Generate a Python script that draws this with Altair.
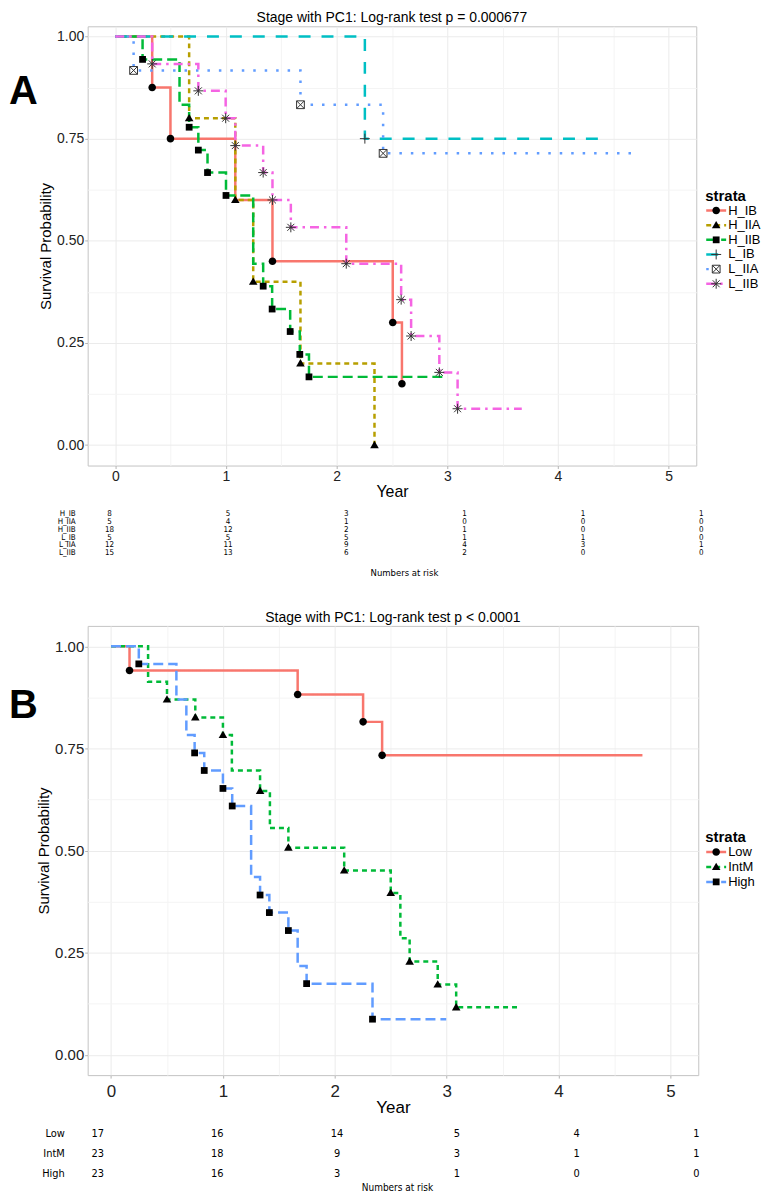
import altair as alt
import pandas as pd

FONT = "Liberation Sans"
NARROW = "Liberation Sans Narrow, DejaVu Sans Condensed, Liberation Sans"

# ---------------- Panel A data ----------------
A_STRATA = ["H_IB", "H_IIA", "H_IIB", "L_IB", "L_IIA", "L_IIB"]

A_H_IB_T = [0, 0.333, 0.498, 1.084, 1.42, 2.507, 2.59]
A_H_IB_S = [1.0, 0.875, 0.75, 0.60, 0.45, 0.30, 0.15]
A_H_IIA_T = [0, 0.667, 1.084, 1.246, 1.673, 2.342]
A_H_IIA_S = [1.0, 0.80, 0.60, 0.40, 0.20, 0.0]
A_H_IIB_T = [0, 0.246, 0.58, 0.667, 0.75, 0.833, 1.0, 1.246, 1.336, 1.417, 1.58, 1.667, 1.75, 3.0]
A_H_IIB_S = [1.0, 0.944, 0.833, 0.778, 0.722, 0.667, 0.611, 0.444, 0.389, 0.333, 0.278, 0.222, 0.167, 0.167]
A_L_IB_T = [0, 2.255, 4.42]
A_L_IB_S = [1.0, 0.75, 0.75]
A_L_IIA_T = [0, 0.165, 1.673, 2.42, 4.73]
A_L_IIA_S = [1.0, 0.917, 0.833, 0.714, 0.714]
A_L_IIB_T = [0, 0.333, 0.75, 0.997, 1.084, 1.336, 1.42, 1.586, 2.087, 2.583, 2.673, 2.928, 3.093, 3.673]
A_L_IIB_S = [1.0, 0.933, 0.867, 0.80, 0.733, 0.667, 0.60, 0.533, 0.444, 0.356, 0.267, 0.178, 0.089, 0.089]

A_H_IB_MT = [0.333, 0.498, 1.42, 2.507, 2.59]
A_H_IB_MS = [0.875, 0.75, 0.45, 0.30, 0.15]
A_H_IIA_MT = [0.667, 1.084, 1.246, 1.673, 2.342]
A_H_IIA_MS = [0.80, 0.60, 0.40, 0.20, 0.0]
A_H_IIB_MT = [0.246, 0.667, 0.75, 0.833, 1.0, 1.336, 1.417, 1.58, 1.667, 1.75]
A_H_IIB_MS = [0.944, 0.778, 0.722, 0.667, 0.611, 0.389, 0.333, 0.278, 0.222, 0.167]
A_L_IB_MT = [2.255]
A_L_IB_MS = [0.75]
A_L_IIA_MT = [0.165, 1.673, 2.42]
A_L_IIA_MS = [0.917, 0.833, 0.714]
A_L_IIB_MT = [0.333, 0.75, 0.997, 1.084, 1.336, 1.42, 1.586, 2.087, 2.583, 2.673, 2.928, 3.093]
A_L_IIB_MS = [0.933, 0.867, 0.80, 0.733, 0.667, 0.60, 0.533, 0.444, 0.356, 0.267, 0.178, 0.089]

RISK_TIMES = [0, 1, 2, 3, 4, 5]
A_RISK_H_IB = [8, 5, 3, 1, 1, 1]
A_RISK_H_IIA = [5, 4, 1, 0, 0, 0]
A_RISK_H_IIB = [18, 12, 2, 1, 0, 0]
A_RISK_L_IB = [5, 5, 5, 1, 1, 0]
A_RISK_L_IIA = [12, 11, 9, 4, 3, 1]
A_RISK_L_IIB = [15, 13, 6, 2, 0, 0]

# ---------------- Panel B data ----------------
B_STRATA = ["Low", "IntM", "High"]

B_LOW_T = [0, 0.165, 1.668, 2.253, 2.423, 4.75]
B_LOW_S = [1.0, 0.941, 0.882, 0.815, 0.733, 0.733]
B_INTM_T = [0, 0.331, 0.5, 0.753, 1.0, 1.08, 1.332, 1.42, 1.585, 2.084, 2.5, 2.586, 2.669, 2.92, 3.085, 3.656]
B_INTM_S = [1.0, 0.913, 0.870, 0.826, 0.783, 0.696, 0.646, 0.555, 0.507, 0.451, 0.396, 0.285, 0.228, 0.172, 0.116, 0.116]
B_HIGH_T = [0, 0.248, 0.584, 0.673, 0.747, 0.833, 1.0, 1.083, 1.252, 1.332, 1.415, 1.585, 1.668, 1.748, 2.337, 2.996]
B_HIGH_S = [1.0, 0.957, 0.870, 0.783, 0.739, 0.696, 0.652, 0.609, 0.435, 0.391, 0.348, 0.304, 0.217, 0.174, 0.087, 0.087]

B_LOW_MT = [0.165, 1.668, 2.253, 2.423]
B_LOW_MS = [0.941, 0.882, 0.815, 0.733]
B_INTM_MT = [0.5, 0.753, 1.0, 1.332, 1.585, 2.084, 2.5, 2.669, 2.92, 3.085]
B_INTM_MS = [0.870, 0.826, 0.783, 0.646, 0.507, 0.451, 0.396, 0.228, 0.172, 0.116]
B_HIGH_MT = [0.248, 0.747, 0.833, 1.0, 1.083, 1.332, 1.415, 1.585, 1.748, 2.337]
B_HIGH_MS = [0.957, 0.739, 0.696, 0.652, 0.609, 0.391, 0.348, 0.304, 0.174, 0.087]

B_RISK_LOW = [17, 16, 14, 5, 4, 1]
B_RISK_INTM = [23, 18, 9, 3, 1, 1]
B_RISK_HIGH = [23, 16, 3, 1, 0, 0]

# ---------------- styles ----------------
A_COLORS = ["#F8766D", "#B79F00", "#00BA38", "#00BFC4", "#619CFF", "#F564E3"]
B_COLORS = ["#F8766D", "#00BA38", "#619CFF"]
A_DASHES = [[1, 0], [5, 4], [10, 5], [12, 11], [2.5, 9], [9, 5, 2.5, 5]]
B_DASHES = [[1, 0], [5, 4], [10, 5]]

CIRCLE = "M0.76,0A0.76,0.76,0,1,1,-0.76,0A0.76,0.76,0,1,1,0.76,0Z"
TRI = "M0,-0.86L0.86,0.62L-0.86,0.62Z"
SQUARE = "M-0.68,-0.68H0.68V0.68H-0.68Z"
PLUS = "M-1,0H1M0,-1V1"
BOXX = "M-0.78,-0.78H0.78V0.78H-0.78ZM-0.78,-0.78L0.78,0.78M0.78,-0.78L-0.78,0.78"
STAR = "M-1,0H1M0,-1V1M-0.7,-0.7L0.7,0.7M-0.7,0.7L0.7,-0.7"
A_SHAPES = [CIRCLE, TRI, SQUARE, PLUS, BOXX, STAR]
B_SHAPES = [CIRCLE, TRI, SQUARE]

XVALS = [i * 0.5 for i in range(11)]
YVALS = [i * 0.125 for i in range(9)]
MAJOR = "#ebebeb"
MINOR = "#f4f4f4"


def long_df(strata, t_lists, s_lists):
    rows = []
    for name, ts, ss in zip(strata, t_lists, s_lists):
        for t, s in zip(ts, ss):
            rows.append({"strata": name, "t": t, "s": s})
    return pd.DataFrame(rows)


def risk_frame(strata, lists):
    rows = []
    for name, ns in zip(strata, lists):
        for t, n in zip(RISK_TIMES, ns):
            rows.append({"strata": name, "t": t, "n": n})
    return pd.DataFrame(rows)


def one_text(txt):
    return pd.DataFrame({"label": [txt]})


def panel(p):
    strata = p["strata"]
    xsc = alt.Scale(domain=p["xdom"], nice=False, zero=False)
    ysc = alt.Scale(domain=p["ydom"], nice=False, zero=False)
    col = alt.Color("strata:N", scale=alt.Scale(domain=strata, range=p["colors"]), legend=None)
    dash = alt.StrokeDash("strata:N", scale=alt.Scale(domain=strata, range=p["dashes"]), legend=None)
    shp = alt.Shape("strata:N", scale=alt.Scale(domain=strata, range=p["shapes"]), legend=None)

    xaxis = alt.Axis(
        values=XVALS,
        labelExpr="datum.value % 1 === 0 ? format(datum.value, 'd') : ''",
        labelFontSize=p["xlab_fs"], titleFontSize=p["xtitle_fs"],
        labelPadding=p["xlab_pad"], titlePadding=p["xtitle_pad"],
        tickOpacity={"condition": {"test": "datum.value % 1 !== 0", "value": 0}, "value": 1},
        gridColor={"condition": {"test": "datum.value % 1 !== 0", "value": MINOR}, "value": MAJOR},
        labelFlush=False, labelOverlap=False,
    )
    yaxis = alt.Axis(
        values=YVALS,
        labelExpr="datum.value % 0.25 === 0 ? format(datum.value, '.2f') : ''",
        labelFontSize=p["ylab_fs"], titleFontSize=15,
        labelPadding=1, titlePadding=p["ytitle_pad"],
        tickOpacity={"condition": {"test": "datum.value % 0.25 !== 0", "value": 0}, "value": 1},
        gridColor={"condition": {"test": "datum.value % 0.25 !== 0", "value": MINOR}, "value": MAJOR},
        labelFlush=False, labelOverlap=False,
    )

    lines = alt.Chart(p["curves"]).mark_line(interpolate="step-after", strokeWidth=2.5).encode(
        x=alt.X("t:Q", scale=xsc, axis=xaxis, title="Year"),
        y=alt.Y("s:Q", scale=ysc, axis=yaxis, title="Survival Probability"),
        color=col, strokeDash=dash,
    )
    layers = [lines]

    mx = alt.X("t:Q", scale=xsc, axis=None)
    my = alt.Y("s:Q", scale=ysc, axis=None)
    filled = [s for s in strata if s not in p["open"]]
    layers.append(
        alt.Chart(p["marks"]).transform_filter(alt.FieldOneOfPredicate(field="strata", oneOf=filled))
        .mark_point(filled=True, color="black", opacity=1, size=100, strokeWidth=0)
        .encode(x=mx, y=my, shape=shp)
    )
    if p["open"]:
        layers.append(
            alt.Chart(p["marks"]).transform_filter(alt.FieldOneOfPredicate(field="strata", oneOf=p["open"]))
            .mark_point(filled=True, fill="white", stroke="#333333", strokeWidth=1, opacity=1, size=100)
            .encode(x=mx, y=my, shape=shp)
        )

    # legend (drawn from the strata list)
    leg_df = pd.DataFrame({"strata": strata})
    ly = alt.Y("strata:N", scale=alt.Scale(type="point", domain=strata, range=p["leg_range"], padding=0), axis=None)
    lx0 = p["leg_x"]
    layers.append(alt.Chart(leg_df).mark_rule(strokeWidth=2.5).encode(
        x=alt.value(lx0), x2=alt.value(lx0 + 20), y=ly, color=col, strokeDash=dash))
    layers.append(alt.Chart(leg_df).transform_filter(alt.FieldOneOfPredicate(field="strata", oneOf=filled))
                  .mark_point(filled=True, color="black", opacity=1, size=100, strokeWidth=0)
                  .encode(x=alt.value(lx0 + 10), y=ly, shape=shp))
    if p["open"]:
        layers.append(alt.Chart(leg_df).transform_filter(alt.FieldOneOfPredicate(field="strata", oneOf=p["open"]))
                      .mark_point(filled=True, fill="white", stroke="#333333", strokeWidth=1, opacity=1, size=100)
                      .encode(x=alt.value(lx0 + 10), y=ly, shape=shp))
    layers.append(alt.Chart(leg_df).mark_text(align="left", baseline="middle", font=FONT, fontSize=13, color="black")
                  .encode(x=alt.value(lx0 + 22), y=ly, text="strata:N"))
    layers.append(alt.Chart(one_text("strata")).mark_text(align="left", baseline="middle", font=FONT, fontSize=15,
                                                          fontWeight="bold", color="black")
                  .encode(x=alt.value(lx0 - 1), y=alt.value(p["leg_title_y"]), text="label:N"))

    # numbers at risk table
    rx = alt.X("t:Q", scale=alt.Scale(domain=[0, 5], range=p["risk_xrange"]), axis=None)
    ry = alt.Y("strata:N", scale=alt.Scale(type="point", domain=strata, range=p["risk_yrange"], padding=0), axis=None)
    layers.append(alt.Chart(p["risk"]).mark_text(baseline="middle", font=NARROW, fontSize=p["risk_fs"], color="black")
                  .encode(x=rx, y=ry, text="n:Q"))
    layers.append(alt.Chart(leg_df).mark_text(align="right", baseline="middle", font=NARROW, fontSize=p["risk_fs"], color="black")
                  .encode(x=alt.value(p["risk_lab_x"]), y=ry, text="strata:N"))
    layers.append(alt.Chart(one_text("Numbers at risk")).mark_text(baseline="middle", font=NARROW, fontSize=p["note_fs"], color="black")
                  .encode(x=alt.value(p["note_x"]), y=alt.value(p["note_y"]), text="label:N"))

    # panel letter
    layers.append(alt.Chart(one_text(p["letter"])).mark_text(align="left", baseline="middle", font=FONT, fontSize=40,
                                                             fontWeight="bold", color="black")
                  .encode(x=alt.value(-79), y=alt.value(p["letter_y"]), text="label:N"))

    return alt.layer(*layers).resolve_scale(x="independent", y="independent").properties(
        width=p["W"], height=p["H"],
        title=alt.TitleParams(p["title"], font=FONT, fontSize=14, fontWeight="normal", color="black",
                              anchor="middle", offset=1),
    )


curvesA = long_df(A_STRATA, [A_H_IB_T, A_H_IIA_T, A_H_IIB_T, A_L_IB_T, A_L_IIA_T, A_L_IIB_T],
                  [A_H_IB_S, A_H_IIA_S, A_H_IIB_S, A_L_IB_S, A_L_IIA_S, A_L_IIB_S])
marksA = long_df(A_STRATA, [A_H_IB_MT, A_H_IIA_MT, A_H_IIB_MT, A_L_IB_MT, A_L_IIA_MT, A_L_IIB_MT],
                 [A_H_IB_MS, A_H_IIA_MS, A_H_IIB_MS, A_L_IB_MS, A_L_IIA_MS, A_L_IIB_MS])
riskA = risk_frame(A_STRATA, [A_RISK_H_IB, A_RISK_H_IIA, A_RISK_H_IIB, A_RISK_L_IB, A_RISK_L_IIA, A_RISK_L_IIB])

curvesB = long_df(B_STRATA, [B_LOW_T, B_INTM_T, B_HIGH_T], [B_LOW_S, B_INTM_S, B_HIGH_S])
marksB = long_df(B_STRATA, [B_LOW_MT, B_INTM_MT, B_HIGH_MT], [B_LOW_MS, B_INTM_MS, B_HIGH_MS])
riskB = risk_frame(B_STRATA, [B_RISK_LOW, B_RISK_INTM, B_RISK_HIGH])

panelA = panel(dict(
    strata=A_STRATA, colors=A_COLORS, dashes=A_DASHES, shapes=A_SHAPES, open=["L_IB", "L_IIA", "L_IIB"],
    curves=curvesA, marks=marksA, risk=riskA,
    W=611, H=441, xdom=[-0.25, 5.25], ydom=[-0.05, 1.025],
    xlab_fs=14, xtitle_fs=16, xlab_pad=1, xtitle_pad=0, ylab_fs=14, ytitle_pad=3,
    leg_x=621, leg_range=[185, 258.5], leg_title_y=170,
    risk_xrange=[22, 616], risk_yrange=[490, 529], risk_fs=8, risk_lab_x=-12,
    note_fs=9.5, note_x=318, note_y=549, letter="A", letter_y=66,
    title="Stage with PC1: Log-rank test p = 0.000677",
))

panelB = panel(dict(
    strata=B_STRATA, colors=B_COLORS, dashes=B_DASHES, shapes=B_SHAPES, open=[],
    curves=curvesB, marks=marksB, risk=riskB,
    W=613, H=451, xdom=[-0.209, 5.249], ydom=[-0.05, 1.05],
    xlab_fs=17, xtitle_fs=17, xlab_pad=5, xtitle_pad=1, ylab_fs=15, ytitle_pad=3,
    leg_x=621, leg_range=[227, 257], leg_title_y=212,
    risk_xrange=[10, 611], risk_yrange=[510, 550], risk_fs=11, risk_lab_x=-23,
    note_fs=10, note_x=311, note_y=564, letter="B", letter_y=80,
    title="Stage with PC1: Log-rank test p < 0.0001",
))

chart = alt.vconcat(panelA, panelB, spacing=32).resolve_scale(
    color="independent", strokeDash="independent", shape="independent"
).properties(
    padding=0, background="white"
).configure(font=FONT).configure_view(
    stroke="#c4c4c4", strokeWidth=1
).configure_axis(
    domain=False, tickColor="#b3b3b3", tickSize=3, labelColor="#222222", titleColor="black",
    labelFont=FONT, titleFont=FONT, titleFontWeight="normal", gridWidth=1,
)

chart.save("out.html", embed_options={"renderer": "svg", "actions": False})
